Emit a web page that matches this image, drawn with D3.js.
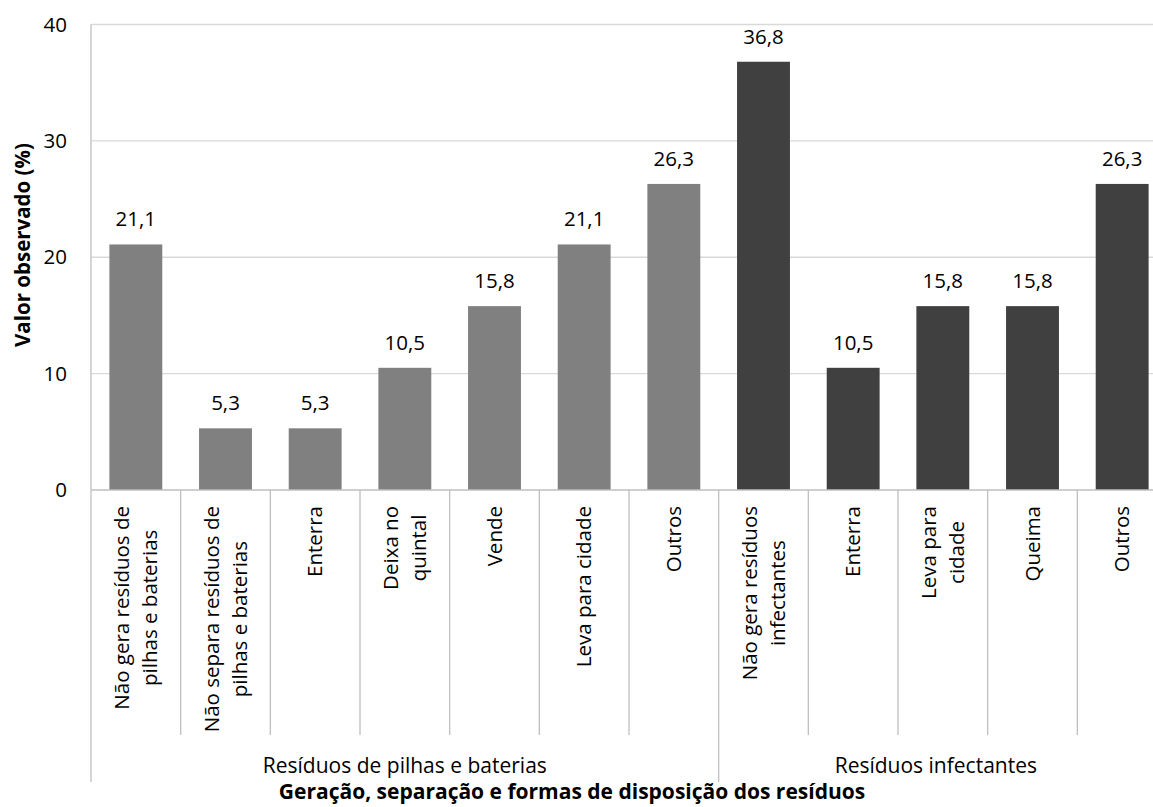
<!DOCTYPE html>
<html>
<head>
<meta charset="utf-8">
<script src="https://cdn.jsdelivr.net/npm/d3@7"></script>
<style>
  body { margin: 0; background: #fff; }
  svg text { font-family: "Open Sans", sans-serif; fill: #000; }
</style>
</head>
<body>
<div id="vis"></div>
<script>
// chart data
var categoryLabels = [
  ["Não gera resíduos de", "pilhas e baterias"],
  ["Não separa resíduos de", "pilhas e baterias"],
  ["Enterra"],
  ["Deixa no", "quintal"],
  ["Vende"],
  ["Leva para cidade"],
  ["Outros"],
  ["Não gera resíduos", "infectantes"],
  ["Enterra"],
  ["Leva para", "cidade"],
  ["Queima"],
  ["Outros"]
];
var values = [21.1, 5.3, 5.3, 10.5, 15.8, 21.1, 26.3, 36.8, 10.5, 15.8, 15.8, 26.3];
var groupNames = ["Resíduos de pilhas e baterias", "Resíduos infectantes"];
var groupSizes = [7, 5];
var yTicks = [0, 10, 20, 30, 40];
var yTitle = "Valor observado (%)";
var xTitle = "Geração, separação e formas de disposição dos resíduos";

var width = 1153, height = 807;
var plotLeft = 91, plotRight = 1167, plotTop = 24.5, plotBottom = 490;
var groupColors = ["#808080", "#404040"];

var svg = d3.select("#vis").append("svg")
  .attr("width", width)
  .attr("height", height);

var idx = d3.range(values.length);
var x = d3.scaleBand().domain(idx)
  .range([plotLeft, plotRight])
  .paddingInner(0.41)
  .paddingOuter(0.205);
var y = d3.scaleLinear().domain([0, 40]).range([plotBottom, plotTop]);

// which group each bar belongs to
var groupOf = [];
groupSizes.forEach(function(n, gi) { for (var k = 0; k < n; k++) groupOf.push(gi); });

var ptFormat = d3.formatLocale({decimal: ",", thousands: ".", grouping: [3], currency: ["", ""]}).format(".1f");

// gridlines
svg.append("g").selectAll("line")
  .data(yTicks.filter(function(d) { return d > 0; }))
  .enter().append("line")
  .attr("x1", plotLeft).attr("x2", plotRight)
  .attr("y1", function(d) { return y(d); })
  .attr("y2", function(d) { return y(d); })
  .attr("stroke", "#d9d9d9")
  .attr("stroke-width", 1.3);

// y tick labels
svg.append("g").selectAll("text")
  .data(yTicks)
  .enter().append("text")
  .attr("x", plotLeft - 24)
  .attr("y", function(d) { return y(d); })
  .attr("dy", "0.35em")
  .attr("text-anchor", "end")
  .style("font-size", "20.5px")
  .text(function(d) { return d; });

// bars
svg.append("g").selectAll("rect")
  .data(idx)
  .enter().append("rect")
  .attr("x", function(i) { return x(i); })
  .attr("width", x.bandwidth())
  .attr("y", function(i) { return y(values[i]); })
  .attr("height", function(i) { return y(0) - y(values[i]); })
  .attr("fill", function(i) { return groupColors[groupOf[i]]; });

// value labels
svg.append("g").selectAll("text")
  .data(idx)
  .enter().append("text")
  .attr("x", function(i) { return x(i) + x.bandwidth() / 2; })
  .attr("y", function(i) { return y(values[i]) - 18; })
  .attr("text-anchor", "middle")
  .style("font-size", "20.5px")
  .text(function(i) { return ptFormat(values[i]); });

// axis lines and category separators
var step = x.step();
var catEdge = function(k) { return plotLeft + k * step; };
var groupEdges = [0];
groupSizes.forEach(function(n, gi) { groupEdges.push(groupEdges[gi] + n); });

var axisG = svg.append("g").attr("stroke", "#bfbfbf").attr("stroke-width", 1.3);
axisG.append("line")
  .attr("x1", plotLeft).attr("x2", plotRight)
  .attr("y1", plotBottom).attr("y2", plotBottom);
axisG.append("line")
  .attr("x1", plotLeft).attr("x2", plotLeft)
  .attr("y1", plotTop).attr("y2", plotBottom);
axisG.selectAll(".sep")
  .data(d3.range(values.length + 1))
  .enter().append("line")
  .attr("class", "sep")
  .attr("x1", function(k) { return catEdge(k); })
  .attr("x2", function(k) { return catEdge(k); })
  .attr("y1", plotBottom)
  .attr("y2", function(k) { return groupEdges.indexOf(k) >= 0 ? 782 : 735; });

// category labels: rotated, top-anchored block, lines centred inside it
var fs = 20.5, lineH = 28;
var catG = svg.append("g");
idx.forEach(function(i) {
  var lines = categoryLabels[i];
  var cx = x(i) + x.bandwidth() / 2;
  var t = catG.append("text")
    .style("font-size", fs + "px")
    .attr("text-anchor", "middle");
  lines.forEach(function(s) {
    t.append("tspan").text(s);
  });
  var maxLen = 0;
  t.selectAll("tspan").each(function() {
    maxLen = Math.max(maxLen, this.getComputedTextLength());
  });
  var midY = 506 + maxLen / 2;
  var n = lines.length;
  t.selectAll("tspan").each(function(d, j) {
    var off = (j - (n - 1) / 2) * lineH;
    d3.select(this).attr("x", 0).attr("y", off).attr("dy", "0.35em");
  });
  t.attr("transform", "translate(" + cx + "," + midY + ") rotate(-90)");
});

// group labels
svg.append("g").selectAll("text")
  .data(groupNames)
  .enter().append("text")
  .attr("x", function(d, gi) { return (catEdge(groupEdges[gi]) + Math.min(catEdge(groupEdges[gi + 1]), width)) / 2; })
  .attr("y", 766)
  .attr("dy", "0.35em")
  .attr("text-anchor", "middle")
  .style("font-size", "21px")
  .text(function(d) { return d; });

// axis titles
svg.append("text")
  .attr("x", 572)
  .attr("y", 792)
  .attr("dy", "0.35em")
  .attr("text-anchor", "middle")
  .style("font-size", "21px")
  .style("font-weight", "bold")
  .text(xTitle);

svg.append("text")
  .attr("transform", "translate(23,245) rotate(-90)")
  .attr("dy", "0.35em")
  .attr("text-anchor", "middle")
  .style("font-size", "20.5px")
  .style("font-weight", "bold")
  .text(yTitle);
</script>
</body>
</html>
